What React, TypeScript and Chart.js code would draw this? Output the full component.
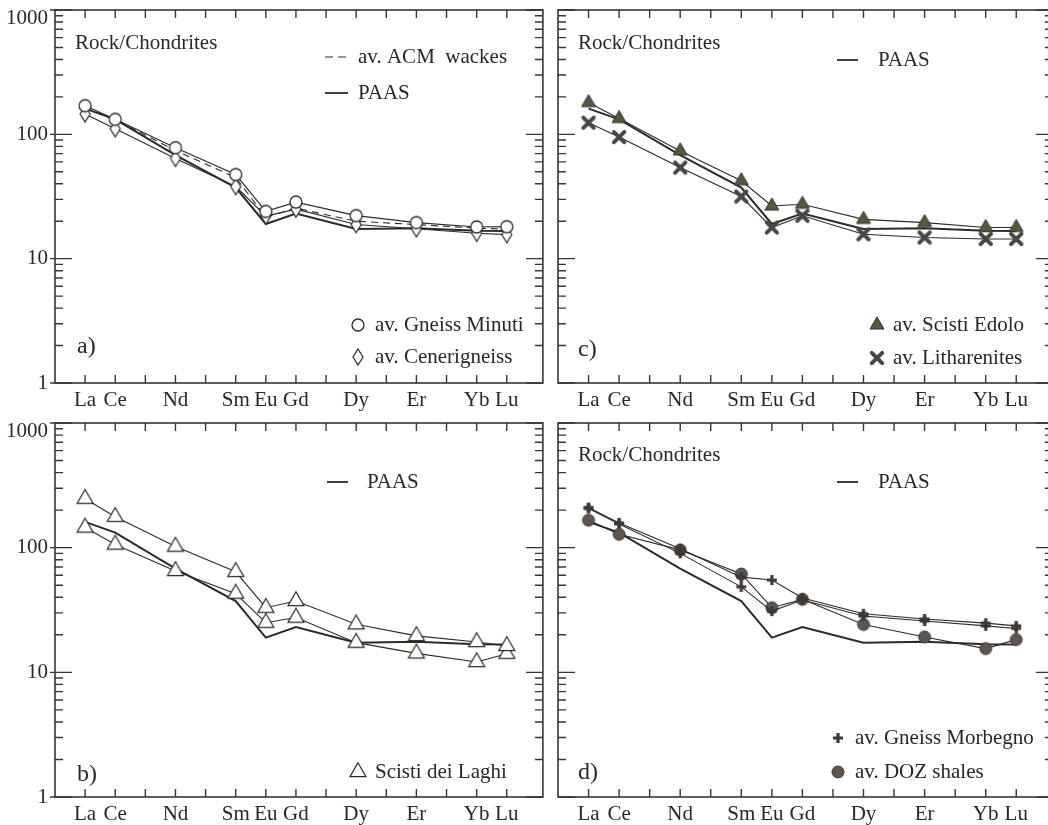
import React, { useEffect, useRef } from 'react';
import { Chart, registerables } from 'chart.js';

Chart.register(...registerables);

// ---------- data ----------
const ELEMENTS = ['La', 'Ce', 'Nd', 'Sm', 'Eu', 'Gd', 'Dy', 'Er', 'Yb', 'Lu'];
const ATOMIC_NUMBERS = [57, 58, 60, 62, 63, 64, 66, 68, 70, 71];
const Y_TICKS = [1, 10, 100, 1000];

const PAAS = [161, 132, 68, 37.3, 19.0, 23.1, 17.3, 17.6, 16.8, 16.7];

// panel a
const ACM_WACKES = [163, 131, 74, 45, 21.5, 25.5, 20.0, 18.8, 17.6, 17.3];
const GNEISS_MINUTI = [170, 132, 78, 47.5, 24, 28.5, 22.2, 19.5, 18.0, 18.1];
const CENERIGNEISS = [146, 111, 64, 38, 22, 25, 18.8, 17.4, 16.0, 15.6];

// panel b
const SCISTI_LAGHI_A = [247, 177, 102, 64, 33, 37.3, 24.3, 19.6, 17.5, 16.3];
const SCISTI_LAGHI_B = [145, 106, 65, 42.8, 25, 27.5, 17.3, 14.2, 12.1, 14.1];

// panel c
const SCISTI_EDOLO = [180, 134, 73.6, 42.3, 26.5, 27.4, 20.7, 19.5, 17.8, 17.8];
const LITHARENITES = [124, 95, 54, 31.6, 17.8, 22.1, 15.7, 14.8, 14.4, 14.4];

// panel d
const GNEISS_MORBEGNO_A = [210, 158, 98, 58, 55, 39.5, 29.5, 26.8, 24.8, 23.6];
const GNEISS_MORBEGNO_B = [206, 155, 90, 48.5, 31, 38, 28.3, 25.8, 23.6, 22.5];
const DOZ_SHALES = [166, 128, 96, 61.5, 33, 38.5, 24.2, 19.2, 15.5, 18.3];

// ---------- styles ----------
const FONT = '"Liberation Serif", "Times New Roman", serif';
const INK = '#2b2725';
const LINE = '#2e2a27';
const FRAME = '#3a3532';

type MarkerKind =
  | 'openCircle'
  | 'openDiamond'
  | 'filledTriangle'
  | 'openTriangle'
  | 'boldX'
  | 'boldPlus'
  | 'filledCircle';

const markerCache: Record<string, HTMLCanvasElement> = {};

function makeMarker(kind: MarkerKind): HTMLCanvasElement {
  if (markerCache[kind]) return markerCache[kind];
  const S = 24;
  const c = document.createElement('canvas');
  c.width = S;
  c.height = S;
  const g = c.getContext('2d')!;
  const cx = S / 2;
  const cy = S / 2;
  g.lineJoin = 'miter';
  switch (kind) {
    case 'openCircle': {
      g.beginPath();
      g.arc(cx, cy, 6, 0, Math.PI * 2);
      g.fillStyle = '#ffffff';
      g.fill();
      g.lineWidth = 1.3;
      g.strokeStyle = LINE;
      g.stroke();
      break;
    }
    case 'filledCircle': {
      g.beginPath();
      g.arc(cx, cy, 6, 0, Math.PI * 2);
      g.fillStyle = '#5d5650';
      g.fill();
      g.lineWidth = 1;
      g.strokeStyle = '#3b3633';
      g.stroke();
      break;
    }
    case 'openDiamond': {
      g.beginPath();
      g.moveTo(cx, cy - 8);
      g.lineTo(cx + 5, cy);
      g.lineTo(cx, cy + 8);
      g.lineTo(cx - 5, cy);
      g.closePath();
      g.fillStyle = '#ffffff';
      g.fill();
      g.lineWidth = 1.2;
      g.strokeStyle = LINE;
      g.stroke();
      break;
    }
    case 'filledTriangle':
    case 'openTriangle': {
      const side = kind === 'filledTriangle' ? 14 : 16;
      const h = (side * Math.sqrt(3)) / 2;
      g.beginPath();
      g.moveTo(cx, cy - (2 * h) / 3);
      g.lineTo(cx + side / 2, cy + h / 3);
      g.lineTo(cx - side / 2, cy + h / 3);
      g.closePath();
      g.fillStyle = kind === 'filledTriangle' ? '#57563e' : '#ffffff';
      g.fill();
      g.lineWidth = kind === 'filledTriangle' ? 1 : 1.2;
      g.strokeStyle = kind === 'filledTriangle' ? '#34332a' : LINE;
      g.stroke();
      break;
    }
    case 'boldX': {
      g.beginPath();
      g.moveTo(cx - 5.2, cy - 5.2);
      g.lineTo(cx + 5.2, cy + 5.2);
      g.moveTo(cx + 5.2, cy - 5.2);
      g.lineTo(cx - 5.2, cy + 5.2);
      g.lineWidth = 4;
      g.lineCap = 'round';
      g.strokeStyle = '#4a4545';
      g.stroke();
      break;
    }
    case 'boldPlus': {
      g.beginPath();
      g.moveTo(cx - 5, cy);
      g.lineTo(cx + 5, cy);
      g.moveTo(cx, cy - 5);
      g.lineTo(cx, cy + 5);
      g.lineWidth = 3.2;
      g.lineCap = 'butt';
      g.strokeStyle = '#3d3835';
      g.stroke();
      break;
    }
  }
  markerCache[kind] = c;
  return c;
}

interface SeriesDef {
  label: string;
  values: number[];
  marker?: MarkerKind;
  width: number;
  dash?: number[];
}

interface TextDef {
  text: string;
  x: number;
  y: number;
  size?: number;
}

type GlyphDef =
  | { type: 'line'; x1: number; x2: number; y: number; width: number; dash?: number[] }
  | { type: 'marker'; kind: MarkerKind; x: number; y: number };

interface PanelDef {
  id: string;
  canvas: { left: number; top: number; width: number; height: number };
  area: { left: number; top: number; right: number; bottom: number };
  showY: boolean;
  series: SeriesDef[];
  texts: TextDef[];
  glyphs: GlyphDef[];
}

const X_MIN = 56;
const X_MAX = 72.2;

const PANELS: PanelDef[] = [
  {
    id: 'a',
    canvas: { left: 0, top: 0, width: 550, height: 412 },
    area: { left: 55, top: 10, right: 547, bottom: 383 },
    showY: true,
    series: [
      { label: 'av. Gneiss Minuti', values: GNEISS_MINUTI, marker: 'openCircle', width: 1.1 },
      { label: 'av. Cenerigneiss', values: CENERIGNEISS, marker: 'openDiamond', width: 1.1 },
      { label: 'av. ACM wackes', values: ACM_WACKES, width: 1.1, dash: [7, 5] },
      { label: 'PAAS', values: PAAS, width: 2 },
    ],
    texts: [
      { text: 'Rock/Chondrites', x: 75, y: 43 },
      { text: 'av. ACM  wackes', x: 358, y: 57 },
      { text: 'PAAS', x: 358, y: 93 },
      { text: 'av. Gneiss Minuti', x: 375, y: 325 },
      { text: 'av. Cenerigneiss', x: 375, y: 357 },
      { text: 'a)', x: 77, y: 347, size: 24 },
    ],
    glyphs: [
      { type: 'line', x1: 325, x2: 348, y: 57, width: 1.2, dash: [8, 5] },
      { type: 'line', x1: 325, x2: 348, y: 93, width: 1.8 },
      { type: 'marker', kind: 'openCircle', x: 358, y: 325 },
      { type: 'marker', kind: 'openDiamond', x: 358, y: 357 },
    ],
  },
  {
    id: 'c',
    canvas: { left: 550, top: 0, width: 510, height: 412 },
    area: { left: 558, top: 10, right: 1057, bottom: 383 },
    showY: false,
    series: [
      { label: 'av. Litharenites', values: LITHARENITES, marker: 'boldX', width: 1.1 },
      { label: 'av. Scisti Edolo', values: SCISTI_EDOLO, marker: 'filledTriangle', width: 1.1 },
      { label: 'PAAS', values: PAAS, width: 2 },
    ],
    texts: [
      { text: 'Rock/Chondrites', x: 578, y: 43 },
      { text: 'PAAS', x: 878, y: 60 },
      { text: 'av. Scisti Edolo', x: 893, y: 325 },
      { text: 'av. Litharenites', x: 893, y: 358 },
      { text: 'c)', x: 578, y: 350, size: 24 },
    ],
    glyphs: [
      { type: 'line', x1: 837, x2: 858, y: 60, width: 1.8 },
      { type: 'marker', kind: 'filledTriangle', x: 877, y: 325 },
      { type: 'marker', kind: 'boldX', x: 877, y: 358 },
    ],
  },
  {
    id: 'b',
    canvas: { left: 0, top: 412, width: 550, height: 413 },
    area: { left: 55, top: 423, right: 547, bottom: 797 },
    showY: true,
    series: [
      { label: 'Scisti dei Laghi', values: SCISTI_LAGHI_A, marker: 'openTriangle', width: 1.1 },
      { label: 'Scisti dei Laghi', values: SCISTI_LAGHI_B, marker: 'openTriangle', width: 1.1 },
      { label: 'PAAS', values: PAAS, width: 2 },
    ],
    texts: [
      { text: 'PAAS', x: 367, y: 482 },
      { text: 'Scisti dei Laghi', x: 375, y: 772 },
      { text: 'b)', x: 77, y: 775, size: 24 },
    ],
    glyphs: [
      { type: 'line', x1: 327, x2: 348, y: 482, width: 1.8 },
      { type: 'marker', kind: 'openTriangle', x: 358, y: 772 },
    ],
  },
  {
    id: 'd',
    canvas: { left: 550, top: 412, width: 510, height: 413 },
    area: { left: 558, top: 423, right: 1057, bottom: 797 },
    showY: false,
    series: [
      { label: 'av. Gneiss Morbegno', values: GNEISS_MORBEGNO_A, marker: 'boldPlus', width: 1.1 },
      { label: 'av. Gneiss Morbegno', values: GNEISS_MORBEGNO_B, marker: 'boldPlus', width: 1.1 },
      { label: 'av. DOZ shales', values: DOZ_SHALES, marker: 'filledCircle', width: 1.1 },
      { label: 'PAAS', values: PAAS, width: 2 },
    ],
    texts: [
      { text: 'Rock/Chondrites', x: 578, y: 455 },
      { text: 'PAAS', x: 878, y: 482 },
      { text: 'av. Gneiss Morbegno', x: 855, y: 738 },
      { text: 'av. DOZ shales', x: 855, y: 772 },
      { text: 'd)', x: 578, y: 773, size: 24 },
    ],
    glyphs: [
      { type: 'line', x1: 837, x2: 858, y: 482, width: 1.8 },
      { type: 'marker', kind: 'boldPlus', x: 838, y: 738 },
      { type: 'marker', kind: 'filledCircle', x: 838, y: 772 },
    ],
  },
];

const TOP_LABEL_DROP = 8;

function decorPlugin(p: PanelDef) {
  const ox = p.canvas.left;
  const oy = p.canvas.top;
  return {
    id: 'decor' + p.id,
    afterDraw(chart: any) {
      const ctx: CanvasRenderingContext2D = chart.ctx;
      const a = chart.chartArea;
      const xs = chart.scales.x;
      const ys = chart.scales.y;
      ctx.save();
      // frame
      ctx.strokeStyle = FRAME;
      ctx.lineWidth = 1.6;
      ctx.strokeRect(a.left, a.top, a.right - a.left, a.bottom - a.top);
      // inward ticks
      ctx.lineWidth = 1.4;
      ctx.beginPath();
      for (let z = 57; z <= 71; z++) {
        const x = xs.getPixelForValue(z);
        ctx.moveTo(x, a.bottom);
        ctx.lineTo(x, a.bottom - 8);
        ctx.moveTo(x, a.top);
        ctx.lineTo(x, a.top + 8);
      }
      for (let d = 1; d <= 1000; d *= 10) {
        for (let m = 1; m <= 9; m++) {
          const v = d * m;
          if (v > 1000) break;
          const y = ys.getPixelForValue(v);
          const major = m === 1;
          const len = major ? 17 : 8;
          const out = major && p.showY ? 5 : 0;
          ctx.moveTo(a.left - out, y);
          ctx.lineTo(a.left + len, y);
          ctx.moveTo(a.right, y);
          ctx.lineTo(a.right - len, y);
        }
      }
      ctx.stroke();

      // top decade label, set slightly below its tick as in the original
      ctx.fillStyle = INK;
      ctx.textBaseline = 'middle';
      if (p.showY) {
        const topTick = Y_TICKS[Y_TICKS.length - 1];
        ctx.font = `21px ${FONT}`;
        ctx.textAlign = 'right';
        ctx.fillText(String(topTick), a.left - 7, ys.getPixelForValue(topTick) + TOP_LABEL_DROP);
      }

      // legend glyphs
      for (const gdef of p.glyphs) {
        if (gdef.type === 'line') {
          ctx.beginPath();
          ctx.setLineDash(gdef.dash || []);
          ctx.lineWidth = gdef.width;
          ctx.strokeStyle = LINE;
          ctx.moveTo(gdef.x1 - ox, gdef.y - oy);
          ctx.lineTo(gdef.x2 - ox, gdef.y - oy);
          ctx.stroke();
          ctx.setLineDash([]);
        } else {
          const img = makeMarker(gdef.kind);
          ctx.drawImage(img, gdef.x - ox - img.width / 2, gdef.y - oy - img.height / 2);
        }
      }

      // texts
      ctx.textAlign = 'left';
      for (const t of p.texts) {
        ctx.font = `${t.size || 21}px ${FONT}`;
        ctx.fillText(t.text, t.x - ox, t.y - oy);
      }
      ctx.restore();
    },
  };
}

function PanelChart({ p }: { p: PanelDef }) {
  const ref = useRef<HTMLCanvasElement | null>(null);

  useEffect(() => {
    const canvas = ref.current;
    if (!canvas) return;
    const datasets = p.series.map((s) => ({
      label: s.label,
      data: s.values.map((v, i) => ({ x: ATOMIC_NUMBERS[i], y: v })),
      borderColor: LINE,
      borderWidth: s.width,
      borderDash: s.dash || [],
      backgroundColor: 'transparent',
      fill: false,
      tension: 0,
      pointStyle: s.marker ? (makeMarker(s.marker) as any) : 'circle',
      pointRadius: s.marker ? 6 : 0,
      pointHoverRadius: s.marker ? 6 : 0,
    }));

    const tickFont = { family: FONT, size: 21 };
    const topTick = Y_TICKS[Y_TICKS.length - 1];

    const chart = new Chart(canvas, {
      type: 'line',
      data: { datasets },
      options: {
        animation: false,
        responsive: false,
        maintainAspectRatio: false,
        devicePixelRatio: 1,
        events: [],
        layout: {
          padding: {
            top: p.area.top - p.canvas.top,
            right: p.canvas.left + p.canvas.width - p.area.right,
            left: 0,
            bottom: 0,
          },
        },
        plugins: {
          legend: { display: false },
          tooltip: { enabled: false },
        },
        scales: {
          x: {
            type: 'linear',
            min: X_MIN,
            max: X_MAX,
            grid: { display: false, drawTicks: false },
            border: { display: false },
            afterBuildTicks: (s: any) => {
              s.ticks = ATOMIC_NUMBERS.map((v) => ({ value: v }));
            },
            afterFit: (s: any) => {
              s.height = p.canvas.top + p.canvas.height - p.area.bottom;
              s.paddingLeft = 0;
              s.paddingRight = 0;
              s.paddingTop = 0;
              s.paddingBottom = 0;
            },
            ticks: {
              autoSkip: false,
              maxRotation: 0,
              minRotation: 0,
              padding: 5,
              color: INK,
              font: tickFont,
              callback: (value: any) => {
                const i = ATOMIC_NUMBERS.indexOf(Number(value));
                return i >= 0 ? ELEMENTS[i] : '';
              },
            },
          },
          y: {
            type: 'logarithmic',
            min: 1,
            max: 1000,
            grid: { display: false, drawTicks: false },
            border: { display: false },
            afterBuildTicks: (s: any) => {
              s.ticks = Y_TICKS.map((v) => ({ value: v }));
            },
            afterFit: (s: any) => {
              s.width = p.area.left - p.canvas.left;
              s.paddingLeft = 0;
              s.paddingRight = 0;
              s.paddingTop = 0;
              s.paddingBottom = 0;
            },
            ticks: {
              display: p.showY,
              padding: 7,
              color: INK,
              font: tickFont,
              // the top decade label is drawn by the decor plugin, slightly lowered
              callback: (value: any) => (Number(value) === topTick ? '' : String(value)),
            },
          },
        },
      } as any,
      plugins: [decorPlugin(p)],
    });
    return () => {
      chart.destroy();
    };
  }, [p]);

  return (
    <canvas
      ref={ref}
      width={p.canvas.width}
      height={p.canvas.height}
      style={{
        position: 'absolute',
        left: p.canvas.left,
        top: p.canvas.top,
        width: p.canvas.width,
        height: p.canvas.height,
      }}
    />
  );
}

export default function App() {
  return (
    <div
      style={{
        position: 'fixed',
        left: 0,
        top: 0,
        width: 1048,
        height: 825,
        overflow: 'hidden',
        background: '#ffffff',
      }}
    >
      {PANELS.map((p) => (
        <PanelChart key={p.id} p={p} />
      ))}
    </div>
  );
}
